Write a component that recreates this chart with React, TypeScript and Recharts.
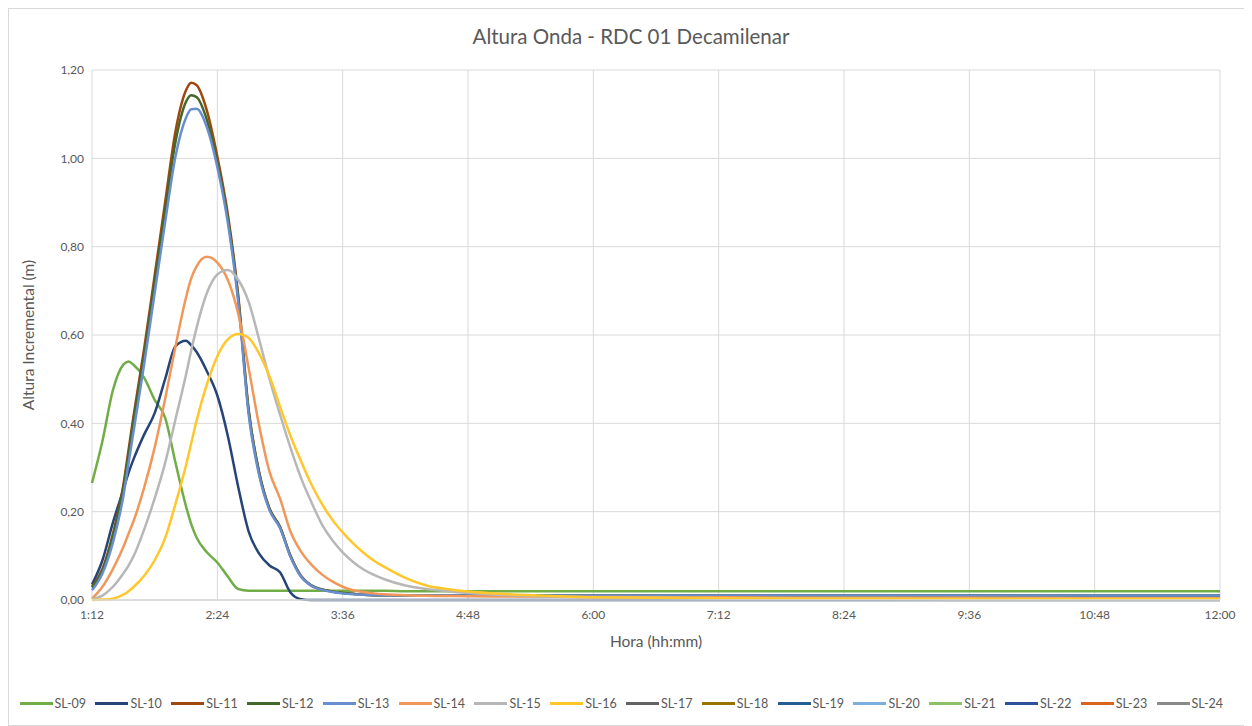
import React from 'react';
import { LineChart, Line, XAxis, YAxis, CartesianGrid, Legend } from 'recharts';

// time in minutes since 0:00
const TIMES = [72, 78, 84, 90, 93, 96, 102, 108, 114, 120, 126, 129, 132, 138, 144, 150, 156, 162, 168, 174, 180, 186, 192, 198, 204, 210, 216, 222, 228, 234, 240,
  252, 264, 276, 288, 312, 336, 360, 432, 504, 576, 648, 720];

const X_TICKS = [72, 144, 216, 288, 360, 432, 504, 576, 648, 720];
const Y_TICKS = [0, 0.2, 0.4, 0.6, 0.8, 1.0, 1.2];

const SL09 = [0.265, 0.36, 0.475, 0.533, 0.54, 0.532, 0.503, 0.453, 0.413, 0.31, 0.212, 0.172, 0.142, 0.108, 0.085, 0.053, 0.025, 0.021, 0.021, 0.021, 0.021, 0.021, 0.021, 0.021, 0.021, 0.021, 0.021, 0.021, 0.021, 0.021, 0.021,
  0.02, 0.02, 0.02, 0.02, 0.02, 0.02, 0.02, 0.02, 0.02, 0.02, 0.02, 0.02];
const SL10 = [0.035, 0.09, 0.175, 0.25, 0.288, 0.32, 0.375, 0.423, 0.5, 0.575, 0.587, 0.577, 0.562, 0.518, 0.463, 0.372, 0.256, 0.155, 0.105, 0.078, 0.063, 0.017, 0.002, 0, 0, 0, 0, 0, 0, 0, 0,
  0, 0, 0, 0, 0, 0, 0, 0, 0, 0, 0, 0];
const SL11 = [0.03, 0.07, 0.15, 0.26, 0.34, 0.42, 0.57, 0.735, 0.9, 1.062, 1.154, 1.171, 1.166, 1.108, 1.004, 0.874, 0.69, 0.43, 0.29, 0.207, 0.166, 0.1, 0.055, 0.033, 0.024, 0.019, 0.016, 0.014, 0.012, 0.011, 0.011,
  0.01, 0.01, 0.01, 0.01, 0.01, 0.01, 0.01, 0.01, 0.01, 0.01, 0.01, 0.01];
const SL12 = [0.028, 0.067, 0.145, 0.255, 0.33, 0.41, 0.555, 0.72, 0.88, 1.038, 1.128, 1.143, 1.139, 1.087, 0.99, 0.865, 0.683, 0.428, 0.288, 0.206, 0.165, 0.1, 0.054, 0.033, 0.024, 0.019, 0.016, 0.014, 0.012, 0.011, 0.011,
  0.01, 0.01, 0.01, 0.01, 0.01, 0.01, 0.01, 0.01, 0.01, 0.01, 0.01, 0.01];
const SL13 = [0.022, 0.06, 0.13, 0.235, 0.31, 0.385, 0.535, 0.695, 0.855, 1.005, 1.092, 1.111, 1.112, 1.07, 0.98, 0.855, 0.675, 0.42, 0.283, 0.203, 0.163, 0.098, 0.053, 0.032, 0.023, 0.018, 0.015, 0.013, 0.012, 0.011, 0.011,
  0.01, 0.01, 0.01, 0.01, 0.01, 0.01, 0.01, 0.01, 0.01, 0.01, 0.01, 0.01];
const SL14 = [0.003, 0.03, 0.07, 0.12, 0.15, 0.18, 0.255, 0.345, 0.455, 0.575, 0.685, 0.728, 0.755, 0.777, 0.764, 0.725, 0.648, 0.525, 0.395, 0.29, 0.23, 0.155, 0.11, 0.08, 0.058, 0.042, 0.03, 0.022, 0.018, 0.015, 0.013,
  0.011, 0.0095, 0.009, 0.0085, 0.008, 0.0075, 0.007, 0.006, 0.005, 0.005, 0.004, 0.004];
const SL15 = [0.002, 0.01, 0.03, 0.06, 0.078, 0.1, 0.16, 0.23, 0.31, 0.41, 0.51, 0.565, 0.615, 0.695, 0.737, 0.747, 0.725, 0.675, 0.59, 0.5, 0.42, 0.345, 0.277, 0.222, 0.172, 0.136, 0.108, 0.086, 0.069, 0.057, 0.047,
  0.033, 0.025, 0.02, 0.016, 0.011, 0.008, 0.006, 0.004, 0.003, 0.002, 0.002, 0.002];
const SL16 = [0, 0.001, 0.003, 0.012, 0.02, 0.03, 0.055, 0.09, 0.14, 0.218, 0.305, 0.355, 0.405, 0.488, 0.552, 0.59, 0.602, 0.593, 0.558, 0.506, 0.438, 0.372, 0.315, 0.262, 0.218, 0.182, 0.153, 0.128, 0.107, 0.089, 0.075,
  0.05, 0.033, 0.025, 0.019, 0.013, 0.009, 0.006, 0.004, 0.003, 0.002, 0.002, 0.002];

const SERIES_NAMES = ['SL-09', 'SL-10', 'SL-11', 'SL-12', 'SL-13', 'SL-14', 'SL-15', 'SL-16', 'SL-17', 'SL-18', 'SL-19', 'SL-20', 'SL-21', 'SL-22', 'SL-23', 'SL-24'];
const SERIES_COLORS = ['#70AD47', '#264478', '#9E480E', '#43682B', '#698ED0', '#F1975A', '#B7B7B7', '#FFC72C', '#636363', '#997300', '#255E91', '#7CAFDD', '#8CC168', '#2E4F9A', '#D9641E', '#8A8A8A'];
const SERIES_VALUES: (number[] | null)[] = [SL09, SL10, SL11, SL12, SL13, SL14, SL15, SL16, null, null, null, null, null, null, null, null];

const data = TIMES.map((t, i) => {
  const row: Record<string, number> = { t };
  SERIES_NAMES.forEach((name, k) => {
    const vals = SERIES_VALUES[k];
    if (vals) row[name] = vals[i];
  });
  return row;
});

const W = 1236;
const H = 716;
const FONT = 'Lato, "Open Sans", sans-serif';
const TEXT = '#595959';

const fmtTime = (t: number) => `${Math.floor(t / 60)}:${String(t % 60).padStart(2, '0')}`;
const fmtVal = (v: number) => v.toFixed(2).replace('.', ',');

const LegendContent = () => (
  <div style={{ position: 'relative', height: 20, width: W }}>
    {SERIES_NAMES.map((name, i) => (
      <div key={name} style={{ position: 'absolute', left: 10.6 + i * 75.8, top: 0, height: 20, display: 'flex', alignItems: 'center' }}>
        <div style={{ width: 33, height: 3, background: SERIES_COLORS[i] }} />
        <span style={{ marginLeft: 2, fontSize: 12.5, color: TEXT, fontFamily: FONT }}>{name}</span>
      </div>
    ))}
  </div>
);

export default function App() {
  return (
    <div style={{ position: 'relative', width: W, height: H, border: '1px solid #D9D9D9', background: '#fff', fontFamily: FONT }}>
      <div style={{ position: 'absolute', top: 15, left: 0, width: W + 8, textAlign: 'center', fontSize: 20.5, color: TEXT, fontFamily: FONT }}>
        Altura Onda - RDC 01 Decamilenar
      </div>
      <LineChart width={W} height={H} data={data} margin={{ top: 61, right: 25, bottom: 12, left: 5 }}>
        <CartesianGrid stroke="#D9D9D9" strokeWidth={1} />
        <XAxis
          dataKey="t"
          type="number"
          domain={[72, 720]}
          ticks={X_TICKS}
          interval={0}
          tickFormatter={fmtTime}
          tickLine={false}
          tickSize={0}
          tickMargin={10}
          axisLine={{ stroke: '#D9D9D9', strokeWidth: 1.5 }}
          tick={{ fill: TEXT, fontSize: 12, fontFamily: FONT }}
          height={93}
          label={{ value: 'Hora (hh:mm)', position: 'insideTop', offset: 36, fill: TEXT, fontSize: 15.5, fontFamily: FONT }}
        />
        <YAxis
          type="number"
          domain={[0, 1.2]}
          ticks={Y_TICKS}
          interval={0}
          tickFormatter={fmtVal}
          tickLine={false}
          tickSize={0}
          tickMargin={8}
          axisLine={false}
          width={78}
          tick={{ fill: TEXT, fontSize: 12, fontFamily: FONT }}
          label={{ value: 'Altura Incremental (m)', angle: -90, position: 'insideLeft', offset: 14, fill: TEXT, fontSize: 15.5, fontFamily: FONT, style: { textAnchor: 'middle' } }}
        />
        <Legend verticalAlign="bottom" content={<LegendContent />} wrapperStyle={{ left: 0, width: W, bottom: 12 }} />
        {SERIES_NAMES.map((name, i) => (
          <Line
            key={name}
            dataKey={name}
            name={name}
            type="monotone"
            stroke={SERIES_COLORS[i]}
            strokeWidth={2.5}
            dot={false}
            activeDot={false}
            isAnimationActive={false}
          />
        ))}
      </LineChart>
    </div>
  );
}
